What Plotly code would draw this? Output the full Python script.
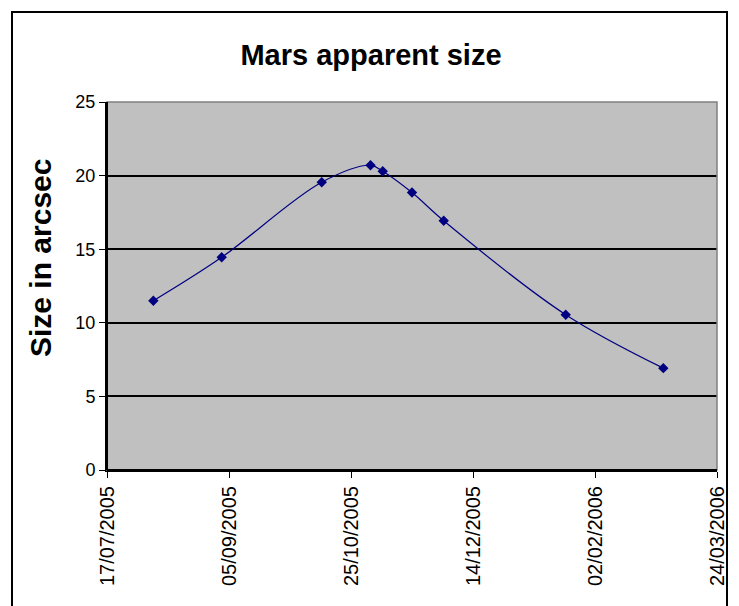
import plotly.graph_objects as go

dates = ["2005-08-05", "2005-09-02", "2005-10-13", "2005-11-02", "2005-11-07",
         "2005-11-19", "2005-12-02", "2006-01-21", "2006-03-02"]
sizes = [11.5, 14.45, 19.55, 20.7, 20.3, 18.85, 16.93, 10.55, 6.92]

title_text = "Mars apparent size"
y_title = "Size in arcsec"
y_ticks = [0, 5, 10, 15, 20, 25]

fig = go.Figure()
fig.add_trace(go.Scatter(
    x=dates, y=sizes, mode="lines+markers",
    line=dict(color="#000080", width=1.2, shape="spline", smoothing=1.0),
    marker=dict(symbol="diamond", size=8, color="#000080"),
    showlegend=False,
))

font = "Liberation Sans, Arial, sans-serif"
L, R, T, B = 107, 717, 102, 470
W, H = 739, 606
pw, ph = R - L, B - T

fig.update_layout(
    width=W, height=H,
    margin=dict(l=L, r=W - R, t=T, b=H - B),
    paper_bgcolor="white", plot_bgcolor="#C0C0C0",
    title=dict(text="<b>" + title_text + "</b>", x=371 / W, xanchor="center",
               y=1 - 55 / H, yanchor="middle",
               font=dict(family=font, size=29, color="black")),
    font=dict(family=font, color="black"),
    xaxis=dict(
        type="date", range=["2005-07-17", "2006-03-24"],
        tick0="2005-07-17", dtick=50 * 86400000, tickformat="%d/%m/%Y",
        tickangle=-90, ticks="outside", ticklen=6, tickcolor="black",
        showgrid=False, showline=True, linecolor="black", linewidth=2,
        tickfont=dict(family=font, size=20), zeroline=False,
    ),
    yaxis=dict(
        range=[0, 25], tickvals=y_ticks, ticks="outside", ticklen=6, tickcolor="black",
        showgrid=True, gridcolor="black", gridwidth=1.8,
        showline=True, linecolor="black", linewidth=2, zeroline=False,
        tickfont=dict(family=font, size=18),
    ),
    annotations=[
        dict(text="<b>" + y_title + "</b>", xref="paper", yref="paper",
             x=(40 - L) / pw, y=(B - 258) / ph, xanchor="center", yanchor="middle",
             textangle=-90, showarrow=False,
             font=dict(family=font, size=30, color="black")),
    ],
    shapes=[
        dict(type="rect", xref="paper", yref="paper", x0=0, x1=1, y0=0, y1=1,
             line=dict(color="#808080", width=1.5), layer="above"),
        dict(type="line", xref="paper", yref="paper", x0=0, x1=0, y0=0, y1=1,
             line=dict(color="black", width=2), layer="above"),
        dict(type="line", xref="paper", yref="paper", x0=0, x1=1, y0=0, y1=0,
             line=dict(color="black", width=2), layer="above"),
        dict(type="rect", xref="paper", yref="paper",
             x0=(12 - L) / pw, x1=(727 - L) / pw,
             y0=(B - 640) / ph, y1=(B - 12) / ph,
             line=dict(color="black", width=2), layer="above"),
    ],
)

fig.write_html("out.html", config={"displayModeBar": False},
               post_script="document.body.style.margin='0';")
